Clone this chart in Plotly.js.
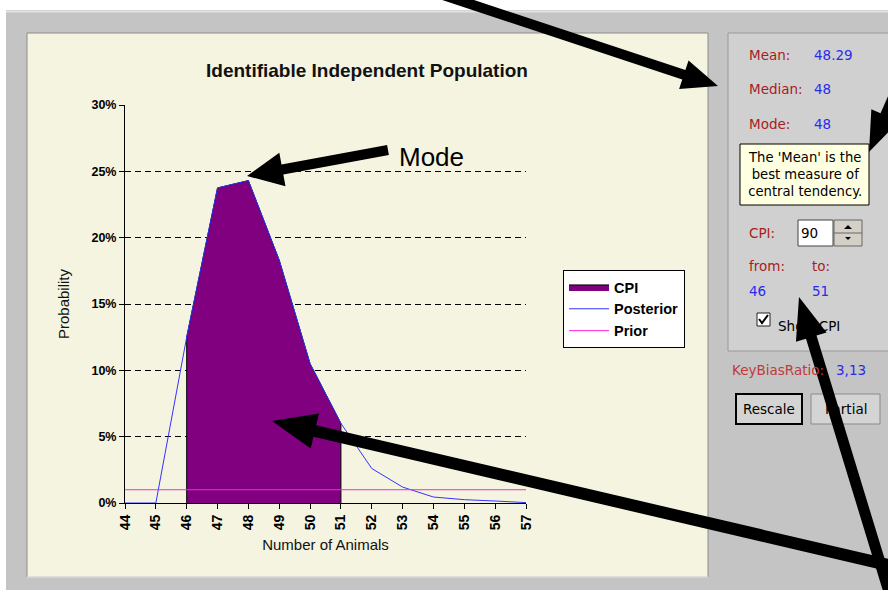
<!DOCTYPE html>
<html>
<head>
<meta charset="utf-8">
<script src="https://cdn.plot.ly/plotly-3.0.1.min.js"></script>
<style>html,body{margin:0;padding:0;background:#fff;}#chart{width:888px;height:590px;}</style>
</head>
<body>
<div id="chart"></div>
<script>
// ---- data ----
var animals = [44, 45, 46, 47, 48, 49, 50, 51, 52, 53, 54, 55, 56, 57];
var posterior = [0, 0, 0.125, 0.2375, 0.243, 0.183, 0.105, 0.06, 0.026, 0.012, 0.0045, 0.0025, 0.0015, 0.0003];
var prior = [0.01, 0.01, 0.01, 0.01, 0.01, 0.01, 0.01, 0.01, 0.01, 0.01, 0.01, 0.01, 0.01, 0.01];
var cpiFrom = 46;
var cpiTo = 51;
var yTicks = [0, 0.05, 0.10, 0.15, 0.20, 0.25, 0.30];
var stats = {mean: '48.29', median: '48', mode: '48', cpi: '90', keyBias: '3,13'};

// ---- geometry helpers (pixel -> paper) ----
var L = 125, R = 526, T = 105, B = 503;
var W = R - L, H = B - T;
function px(x) { return (x - L) / W; }
function py(y) { return (B - y) / H; }
function rect(x0, y0, x1, y1, fill, line, lw, layer) {
  return {type: 'rect', xref: 'paper', yref: 'paper', x0: px(x0), x1: px(x1), y0: py(y0), y1: py(y1),
    fillcolor: fill, line: {color: line || 'rgba(0,0,0,0)', width: lw === undefined ? 1 : lw}, layer: layer || 'below'};
}
function pathShape(pts, fill, line, lw, layer, closed) {
  var d = pts.map(function (p, i) { return (i ? 'L' : 'M') + px(p[0]).toFixed(5) + ',' + py(p[1]).toFixed(5); }).join(' ');
  if (closed) d += ' Z';
  return {type: 'path', xref: 'paper', yref: 'paper', path: d, fillcolor: fill || 'rgba(0,0,0,0)',
    line: {color: line || 'rgba(0,0,0,0)', width: lw || 0}, layer: layer || 'above'};
}
function arrow(x0, y0, x1, y1, sw, hw, hl) {
  var dx = x1 - x0, dy = y1 - y0, len = Math.sqrt(dx * dx + dy * dy);
  var ux = dx / len, uy = dy / len, nx = -uy, ny = ux;
  var bx = x1 - ux * hl, by = y1 - uy * hl;
  var pts = [
    [x0 + nx * sw / 2, y0 + ny * sw / 2],
    [bx + nx * sw / 2, by + ny * sw / 2],
    [bx + nx * hw / 2, by + ny * hw / 2],
    [x1, y1],
    [bx - nx * hw / 2, by - ny * hw / 2],
    [bx - nx * sw / 2, by - ny * sw / 2],
    [x0 - nx * sw / 2, y0 - ny * sw / 2]
  ];
  return pathShape(pts, '#000', '#000', 0, 'above', true);
}
function label(x, y, text, color, size, opts) {
  opts = opts || {};
  return {xref: 'paper', yref: 'paper', x: px(x), y: py(y), text: text, showarrow: false,
    xanchor: opts.xanchor || 'left', yanchor: 'middle',
    font: {family: opts.family || 'DejaVu Sans, sans-serif', size: size, color: color, weight: opts.weight || 'normal'},
    align: opts.align || 'left'};
}

// ---- traces ----
var cpiX = [cpiFrom], cpiY = [0];
animals.forEach(function (a, i) { if (a >= cpiFrom && a <= cpiTo) { cpiX.push(a); cpiY.push(posterior[i]); } });
cpiX.push(cpiTo); cpiY.push(0);

var traces = [
  {x: cpiX, y: cpiY, name: 'CPI', type: 'scatter', mode: 'lines', fill: 'toself',
   fillcolor: '#800080', line: {color: '#000000', width: 1}},
  {x: animals, y: posterior, name: 'Posterior', type: 'scatter', mode: 'lines',
   line: {color: '#3333ff', width: 1}},
  {x: animals, y: prior, name: 'Prior', type: 'scatter', mode: 'lines',
   line: {color: '#ff22dd', width: 1}}
];

var red = '#a81c1c', blue = '#2a2aee';
var ui = 13.5;
var shapes = [
  rect(-10, -10, 900, 10, '#ffffff', null, 0),
  rect(-10, -10, 6, 600, '#ffffff', null, 0),
  {type: 'line', xref: 'paper', yref: 'paper', x0: px(6), x1: px(900), y0: py(11.5), y1: py(11.5), line: {color: '#e2e2e2', width: 2}, layer: 'below'},
  rect(27, 33, 708, 577, '#f4f4e0', '#8c8c8c', 1),
  {type: 'line', xref: 'paper', yref: 'paper', x0: px(27), x1: px(708), y0: py(577), y1: py(577), line: {color: '#ffffff', width: 1}, layer: 'below'},
  rect(728, 33, 895, 351, '#d0d0d0', '#9a9a9a', 1),
  rect(740, 144, 869, 205, '#ffffe1', '#000000', 1),
  rect(798, 220, 833, 246, '#ffffff', '#444444', 1),
  rect(834, 220, 862, 246, '#d4d0c8', '#666666', 1),
  {type: 'line', xref: 'paper', yref: 'paper', x0: px(834), x1: px(862), y0: py(233), y1: py(233), line: {color: '#666', width: 1}, layer: 'below'},
  pathShape([[844, 229], [852, 229], [848, 225]], '#000', '#000', 0, 'below', true),
  pathShape([[845, 237], [851, 237], [848, 240]], '#000', '#000', 0, 'below', true),
  rect(757, 313, 770, 326, '#ffffff', '#222222', 1),
  pathShape([[759, 319], [762, 323], [768, 315]], null, '#000', 2, 'below', false),
  rect(736, 394, 802, 424, '#d4d4d4', '#000000', 2),
  rect(811, 394, 880, 424, '#d4d4d4', '#8a8a8a', 1),
  // arrows
  arrow(440, -6, 718, 86, 10, 30, 36),
  arrow(905, 70, 869, 152, 10, 30, 40),
  arrow(388, 150, 247, 176, 10, 34, 36),
  arrow(905, 569, 272, 421, 12, 36, 44),
  arrow(893, 605, 799, 297, 11, 32, 42)
];

var annotations = [
  label(367, 71, 'Identifiable Independent Population', '#111', 19, {xanchor: 'center', family: 'Liberation Sans, Arial, sans-serif', weight: 'bold'}),
  label(397, 157, 'Mode', '#000', 26, {family: 'Liberation Sans, Arial, sans-serif'}),
  label(747, 55, 'Mean:', red, ui),
  label(812, 55, stats.mean, blue, ui),
  label(747, 89, 'Median:', red, ui),
  label(812, 89, stats.median, blue, ui),
  label(747, 124, 'Mode:', red, ui),
  label(812, 124, stats.mode, blue, ui),
  label(804.5, 174, "The 'Mean' is the<br>best measure of<br>central tendency.", '#000', 13.2, {xanchor: 'center', align: 'center'}),
  label(747, 233, 'CPI:', red, ui),
  label(799, 233, stats.cpi, '#000', ui),
  label(747, 266, 'from:', red, ui),
  label(810, 266, 'to:', red, ui),
  label(747, 291, String(cpiFrom), blue, ui),
  label(810, 291, String(cpiTo), blue, ui),
  label(776, 326, 'Show CPI', '#000', ui),
  label(730, 370, 'KeyBiasRatio:', '#c03a3a', ui),
  label(834, 370, stats.keyBias, blue, ui),
  label(769, 409, 'Rescale', '#000', ui, {xanchor: 'center'}),
  label(845.5, 409, 'Partial', '#000', ui, {xanchor: 'center'})
];

var layout = {
  width: 888, height: 590,
  margin: {l: L, r: 888 - R, t: T, b: 590 - B, pad: 0},
  paper_bgcolor: '#c4c4c4',
  plot_bgcolor: 'rgba(0,0,0,0)',
  font: {family: 'Liberation Sans, Arial, sans-serif', color: '#000'},
  showlegend: true,
  legend: {x: px(563), y: py(270), xanchor: 'left', yanchor: 'top', bgcolor: '#ffffff',
    bordercolor: '#000000', borderwidth: 1, traceorder: 'normal',
    font: {family: 'Liberation Sans, Arial, sans-serif', size: 14.5, color: '#000', weight: 'bold'},
    itemwidth: 40, tracegroupgap: 6},
  xaxis: {type: 'linear', range: [44, 57], tickmode: 'array', tickvals: animals, ticktext: animals.map(String),
    tickangle: -90, ticks: 'outside', ticklen: 5, tickcolor: '#000', showline: true, linecolor: '#000', linewidth: 1,
    showgrid: false, zeroline: false, fixedrange: true,
    tickfont: {size: 14, weight: 'bold', family: 'Liberation Sans, Arial, sans-serif'},
    title: {text: 'Number of Animals', standoff: 10, font: {size: 15, color: '#111'}}},
  yaxis: {range: [0, 0.30], tickmode: 'array', tickvals: yTicks, tickformat: '.0%', ticks: 'outside', ticklen: 5,
    tickcolor: '#000', showline: true, linecolor: '#000', linewidth: 1, showgrid: true, gridcolor: '#000',
    griddash: '6px,4px', gridwidth: 1, zeroline: false, fixedrange: true,
    tickfont: {size: 12.5, weight: 'bold', family: 'Liberation Sans, Arial, sans-serif'},
    title: {text: 'Probability', standoff: 18, font: {size: 15, color: '#111'}}},
  shapes: shapes,
  annotations: annotations
};

Plotly.newPlot('chart', traces, layout, {displayModeBar: false, staticPlot: true});
</script>
</body>
</html>
